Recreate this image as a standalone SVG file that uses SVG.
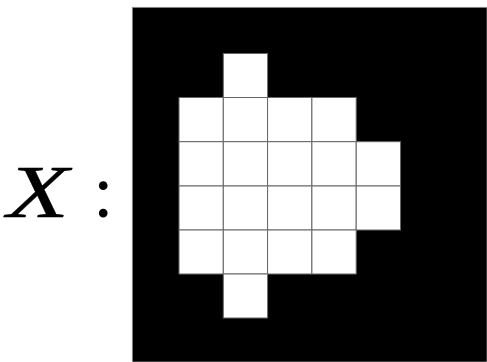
<svg xmlns="http://www.w3.org/2000/svg" width="487" height="362" viewBox="0 0 487 362">
<style>
.c{fill:#fff;stroke:#666;stroke-width:1}
.t{font-family:"Liberation Serif","DejaVu Serif",serif;font-size:74px;fill:#000}
</style>
<rect width="487" height="362" fill="#fff"/>
<g id="label">
<text class="t" x="7" y="217" font-style="italic" textLength="62" lengthAdjust="spacingAndGlyphs" stroke="#000" stroke-width="0.3">X</text>
<text class="t" x="93" y="217" font-size="70">:</text>
</g>
<g id="image">
<rect x="132.3" y="7.3" width="354.7" height="354.7" fill="#000" stroke="#999" stroke-width="0.8"/>
<g id="cells">
<rect class="c" x="223.3" y="53.5" width="44.3" height="44"/>
<rect class="c" x="179" y="97.5" width="44.3" height="44.2"/>
<rect class="c" x="223.3" y="97.5" width="44.3" height="44.2"/>
<rect class="c" x="267.6" y="97.5" width="44.3" height="44.2"/>
<rect class="c" x="311.9" y="97.5" width="44.3" height="44.2"/>
<rect class="c" x="179" y="141.7" width="44.3" height="44.3"/>
<rect class="c" x="223.3" y="141.7" width="44.3" height="44.3"/>
<rect class="c" x="267.6" y="141.7" width="44.3" height="44.3"/>
<rect class="c" x="311.9" y="141.7" width="44.3" height="44.3"/>
<rect class="c" x="356.2" y="141.7" width="44.3" height="44.3"/>
<rect class="c" x="179" y="186" width="44.3" height="44"/>
<rect class="c" x="223.3" y="186" width="44.3" height="44"/>
<rect class="c" x="267.6" y="186" width="44.3" height="44"/>
<rect class="c" x="311.9" y="186" width="44.3" height="44"/>
<rect class="c" x="356.2" y="186" width="44.3" height="44"/>
<rect class="c" x="179" y="230" width="44.3" height="44"/>
<rect class="c" x="223.3" y="230" width="44.3" height="44"/>
<rect class="c" x="267.6" y="230" width="44.3" height="44"/>
<rect class="c" x="311.9" y="230" width="44.3" height="44"/>
<rect class="c" x="223.3" y="274" width="44.3" height="44"/>
</g>
</g>
</svg>
